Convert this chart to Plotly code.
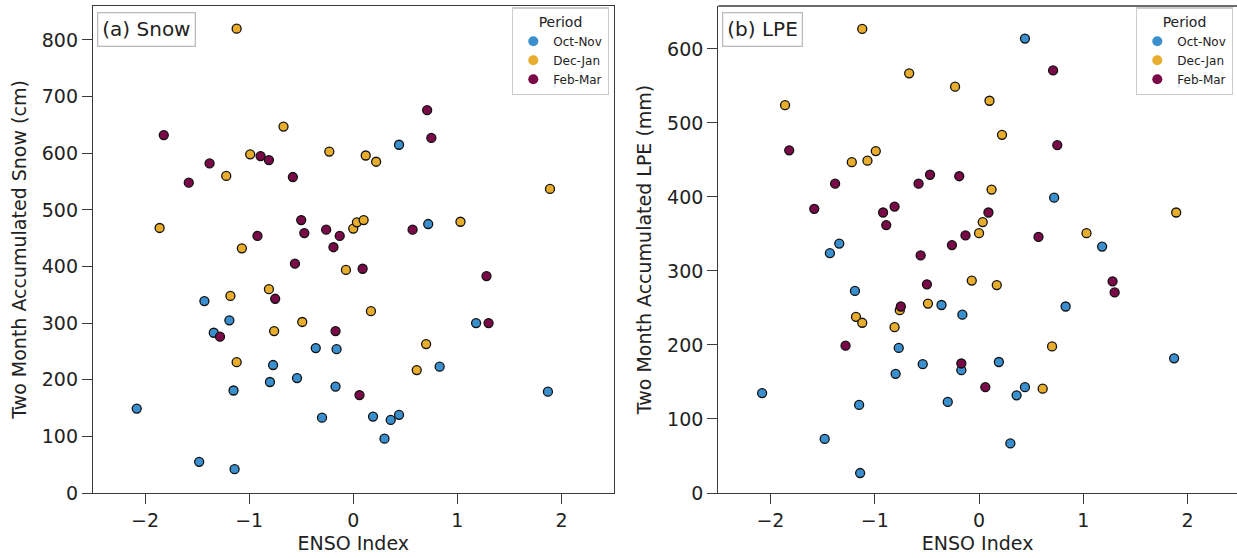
import plotly.graph_objects as go

# ENSO index per period (x values shared by both panels)
enso_octnov = [-2.08, -1.48, -1.43, -1.34, -1.19, -1.15, -1.14, -0.80, -0.77, -0.54, -0.36, -0.30,
               -0.17, -0.16, 0.19, 0.30, 0.36, 0.44, 0.44, 0.72, 0.83, 1.18, 1.87]
snow_octnov = [149, 55, 339, 283, 305, 181, 42, 196, 226, 203, 256, 133,
               188, 254, 135, 96, 129, 138, 615, 475, 223, 300, 179]
lpe_octnov = [135, 73, 324, 337, 273, 119, 27, 161, 196, 174, 254, 123,
              166, 241, 177, 67, 132, 143, 614, 399, 252, 333, 182]

enso_decjan = [-1.86, -1.22, -1.18, -1.12, -1.12, -1.07, -0.99, -0.81, -0.76, -0.67, -0.49, -0.23,
               -0.07, 0.00, 0.035, 0.10, 0.12, 0.17, 0.22, 0.61, 0.70, 1.03, 1.89]
snow_decjan = [468, 560, 348, 820, 231, 432, 598, 360, 286, 647, 302, 603,
               394, 467, 478, 482, 596, 321, 585, 217, 263, 479, 537]
lpe_decjan = [524, 447, 238, 627, 230, 449, 462, 224, 247, 567, 256, 549,
              287, 351, 366, 530, 410, 281, 484, 141, 198, 351, 379]

enso_febmar = [-1.82, -1.58, -1.38, -1.28, -0.92, -0.89, -0.81, -0.75, -0.58, -0.56, -0.50, -0.47,
               -0.26, -0.19, -0.17, -0.13, 0.06, 0.09, 0.57, 0.71, 0.75, 1.28, 1.30]
snow_febmar = [632, 548, 582, 276, 454, 595, 588, 343, 558, 405, 482, 459,
               465, 434, 286, 454, 173, 396, 465, 676, 627, 383, 300]
lpe_febmar = [463, 384, 418, 199, 379, 362, 387, 252, 418, 321, 282, 430,
              335, 428, 175, 348, 143, 379, 346, 571, 470, 286, 271]

periods = ["Oct-Nov", "Dec-Jan", "Feb-Mar"]
colors = ["#3A8FCF", "#E8AD2C", "#7A0A47"]

x_ticks = [-2, -1, 0, 1, 2]

series = [
    (enso_octnov, snow_octnov, lpe_octnov),
    (enso_decjan, snow_decjan, lpe_decjan),
    (enso_febmar, snow_febmar, lpe_febmar),
]

FONT = "DejaVu Sans"
W, H = 1237, 558
# plot-area box (pixels)
L, T, B = 93.0, 5.7, 493.3
PW, PH = W - L, B - T


def px_x(p):
    return (p - L) / PW


def px_y(p):
    return 1 - (p - T) / PH


fig = go.Figure()

for (ex, sn, lp), name, col in zip(series, periods, colors):
    mk = dict(color=col, size=9, line=dict(color="#111111", width=1.3))
    fig.add_trace(go.Scatter(x=ex, y=sn, mode="markers", marker=mk, name=name,
                             showlegend=False, xaxis="x", yaxis="y"))
    fig.add_trace(go.Scatter(x=ex, y=lp, mode="markers", marker=mk, name=name,
                             showlegend=False, xaxis="x2", yaxis="y2"))

# legend-only entries (plain dots, no edge)
for name, col in zip(periods, colors):
    fig.add_trace(go.Scatter(x=[None], y=[None], mode="markers", name=name,
                             marker=dict(color=col, size=10, line=dict(width=0)),
                             legend="legend", xaxis="x", yaxis="y"))
    fig.add_trace(go.Scatter(x=[None], y=[None], mode="markers", name=name,
                             marker=dict(color=col, size=10, line=dict(width=0)),
                             legend="legend2", xaxis="x2", yaxis="y2"))

axis_common = dict(
    showgrid=False, zeroline=False, showline=True, linecolor="#3a3a3a", linewidth=1.3,
    ticks="outside", ticklen=10, tickwidth=1.3, tickcolor="#3a3a3a", automargin=False,
    tickfont=dict(family=FONT, size=19, color="#222222"),
)
title_font = dict(family=FONT, size=19, color="#222222")

legend_common = dict(
    bgcolor="white", bordercolor="#cccccc", borderwidth=1.3,
    font=dict(family=FONT, size=12, color="#222222"),
    title=dict(text="Period", side="top center", font=dict(family=FONT, size=14, color="#222222")),
    itemwidth=30, xanchor="right", yanchor="top", tracegroupgap=0,
)

fig.update_layout(
    width=W, height=H, autosize=False,
    margin=dict(l=L, r=0, t=T, b=H - B, autoexpand=False),
    paper_bgcolor="white", plot_bgcolor="white",
    xaxis=dict(domain=[0, px_x(613.5)], range=[-2.5, 2.5], tickvals=x_ticks,
               mirror=True, anchor="y",
               title=dict(text="ENSO Index", font=title_font, standoff=6), **axis_common),
    yaxis=dict(domain=[0, 1], range=[0, 860], dtick=100, mirror=True, anchor="x",
               title=dict(text="Two Month Accumulated Snow (cm)", font=title_font, standoff=10),
               **axis_common),
    xaxis2=dict(domain=[px_x(718.3), 1.0], range=[-2.5, 2.473], tickvals=x_ticks, anchor="y2",
                title=dict(text="ENSO Index", font=title_font, standoff=6), **axis_common),
    yaxis2=dict(domain=[0, 1], range=[0, 658], dtick=100, anchor="x2",
                title=dict(text="Two Month Accumulated LPE (mm)", font=title_font, standoff=10),
                **axis_common),
    legend=dict(x=px_x(609), y=px_y(7), **legend_common),
    legend2=dict(x=px_x(1233), y=px_y(7), **legend_common),
    annotations=[
        dict(text="(a) Snow", xref="paper", yref="paper", x=px_x(96.7), y=px_y(11.7),
             xanchor="left", yanchor="top", showarrow=False,
             font=dict(family=FONT, size=20, color="#222222"),
             bgcolor="white", bordercolor="#bbbbbb", borderwidth=1.3, borderpad=4),
        dict(text="(b) LPE", xref="paper", yref="paper", x=px_x(722.3), y=px_y(11.7),
             xanchor="left", yanchor="top", showarrow=False,
             font=dict(family=FONT, size=20, color="#222222"),
             bgcolor="white", bordercolor="#bbbbbb", borderwidth=1.3, borderpad=4),
    ],
    shapes=[
        dict(type="line", xref="x2 domain", yref="y2 domain", x0=0, x1=1, y0=1, y1=1,
             line=dict(color="#3a3a3a", width=1.3)),
    ],
)

fig.write_html("out.html")
